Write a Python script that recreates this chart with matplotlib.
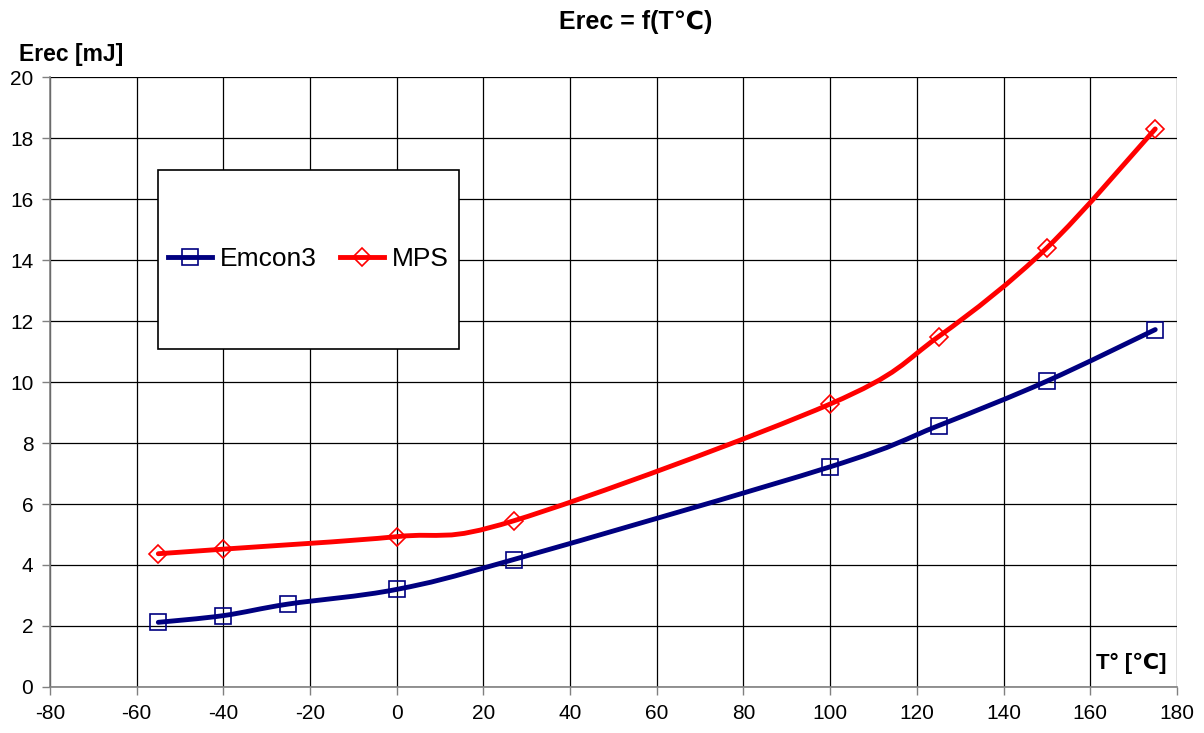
import matplotlib
matplotlib.use("Agg")
import matplotlib.pyplot as plt
import numpy as np
from matplotlib.path import Path
from matplotlib.patches import PathPatch
from matplotlib.lines import Line2D

plt.rcParams['font.family'] = ['Liberation Sans', 'DejaVu Sans']
plt.rcParams['axes.unicode_minus'] = False

# data
temp_emcon = [-55, -40, -25, 0, 27, 100, 125, 150, 175]
erec_emcon = [2.12, 2.34, 2.72, 3.20, 4.18, 7.22, 8.57, 10.03, 11.72]

temp_mps = [-55, -40, 0, 27, 100, 125, 150, 175]
erec_mps = [4.37, 4.52, 4.93, 5.45, 9.28, 11.49, 14.40, 18.30]

xticks = list(range(-80, 181, 20))
yticks = list(range(0, 21, 2))


def smooth_path(x, y):
  # excel-style smoothed line: bezier segments through the points
  p = np.column_stack([x, y]).astype(float)
  n = len(p)
  verts = [p[0]]
  codes = [Path.MOVETO]
  for i in range(n - 1):
    p0 = p[i - 1] if i > 0 else p[i]
    p3 = p[i + 2] if i + 2 < n else p[i + 1]
    c1 = p[i] + (p[i + 1] - p0) / 6.0
    c2 = p[i + 1] - (p3 - p[i]) / 6.0
    verts += [c1, c2, p[i + 1]]
    codes += [Path.CURVE4] * 3
  return Path(verts, codes)


fig = plt.figure(figsize=(12.04, 7.33), dpi=100)
ax = fig.add_axes([0.0415, 0.0628, 0.936, 0.832])

styles = [(temp_emcon, erec_emcon, '#000080', 's', 12),
          (temp_mps, erec_mps, '#ff0000', 'D', 9.5)]
for x, y, col, mk, ms in styles:
  ax.add_patch(PathPatch(smooth_path(x, y), facecolor='none', edgecolor=col,
                         lw=3.5, capstyle='round', zorder=3))
  ax.plot(x, y, ls='none', marker=mk, ms=ms, mfc='none', mec=col, mew=1.2, zorder=4)

ax.set_xlim(-80, 180)
ax.set_ylim(0, 20)
ax.set_xticks(xticks)
ax.set_yticks(yticks)
ax.grid(True, color='black', lw=0.9)
ax.set_axisbelow(True)
for s in ['top', 'right']:
  ax.spines[s].set_visible(False)
for s in ['left', 'bottom']:
  ax.spines[s].set_color('#808080')
  ax.spines[s].set_linewidth(1.2)
ax.tick_params(direction='out', length=6, width=1, color='#808080',
               labelsize=15, pad=6)

fig.text(0.528, 0.970, 'Erec = f(T\u2103)', ha='center', va='center',
         fontsize=18, fontweight='bold')
fig.text(0.016, 0.925, 'Erec [mJ]', ha='left', va='center',
         fontsize=16.5, fontweight='bold')
ax.text(0.991, 0.039, 'T\u00b0 [\u2103]', transform=ax.transAxes, ha='right',
        va='center', fontsize=16, fontweight='bold')

# legend box
box = plt.Rectangle((0.096, 0.554), 0.267, 0.294, transform=ax.transAxes,
                    facecolor='white', edgecolor='black', lw=1.2, zorder=5)
ax.add_patch(box)

handles = [Line2D([], [], color=c, lw=3.5, marker=m, ms=s, mfc='none', mec=c, mew=1.2)
           for _, _, c, m, s in styles]
leg = ax.legend(handles, ['Emcon3', 'MPS'], ncol=2, loc='center',
                bbox_to_anchor=(0.2295, 0.702), fontsize=19, frameon=False,
                handlelength=1.65, handletextpad=0.3, columnspacing=0.9)
leg.set_zorder(6)

fig.savefig('out.png', dpi=100)
